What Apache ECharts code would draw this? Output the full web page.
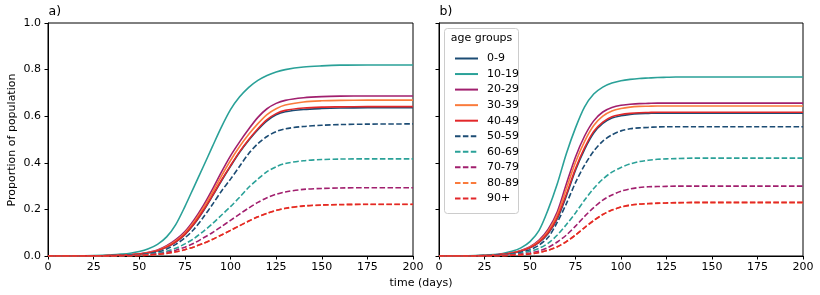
<!DOCTYPE html>
<html>
<head>
<meta charset="utf-8">
<script src="https://cdn.jsdelivr.net/npm/echarts@6/dist/echarts.min.js"></script>
<style>
html, body { margin: 0; padding: 0; background: #fff; }
#chart { width: 820px; height: 295px; }
</style>
</head>
<body>
<div id="chart"></div>
<script>
// sample days (x) shared by every curve
var days = [0, 10, 20, 30, 35, 40, 45, 50, 55, 60, 65, 70, 75, 80, 85, 90, 95, 100, 105, 110, 115, 120, 125, 130, 140, 150, 160, 175, 200];

var groups = ['0-9', '10-19', '20-29', '30-39', '40-49', '50-59', '60-69', '70-79', '80-89', '90+'];
var xTicks = [0, 25, 50, 75, 100, 125, 150, 175, 200];
var yTicks = [0, 0.2, 0.4, 0.6, 0.8, 1.0];

// panel a)
var a09   = [0,0,0.0005,0.001,0.002,0.003,0.005,0.008,0.014,0.023,0.038,0.06,0.092,0.136,0.192,0.256,0.322,0.385,0.445,0.497,0.542,0.58,0.606,0.619,0.629,0.633,0.635,0.636,0.636];
var a1019 = [0,0.0005,0.001,0.003,0.005,0.008,0.012,0.019,0.031,0.05,0.082,0.135,0.212,0.297,0.382,0.468,0.553,0.628,0.683,0.724,0.754,0.775,0.79,0.8,0.811,0.816,0.819,0.82,0.82];
var a2029 = [0,0,0.0005,0.001,0.002,0.003,0.005,0.009,0.016,0.026,0.044,0.07,0.105,0.155,0.215,0.285,0.36,0.43,0.49,0.545,0.595,0.632,0.655,0.668,0.679,0.684,0.686,0.687,0.687];
var a3039 = [0,0,0.0005,0.001,0.002,0.003,0.005,0.008,0.015,0.024,0.041,0.065,0.099,0.146,0.205,0.272,0.343,0.41,0.47,0.522,0.568,0.607,0.632,0.648,0.661,0.666,0.668,0.669,0.669];
var a4049 = [0,0,0.0005,0.001,0.002,0.003,0.005,0.008,0.014,0.023,0.038,0.061,0.093,0.138,0.194,0.258,0.325,0.388,0.448,0.5,0.546,0.585,0.611,0.625,0.635,0.639,0.64,0.641,0.641];
var a5059 = [0,0,0.0003,0.001,0.0015,0.002,0.004,0.006,0.01,0.017,0.03,0.05,0.078,0.115,0.165,0.22,0.278,0.33,0.385,0.44,0.482,0.513,0.534,0.546,0.556,0.561,0.564,0.566,0.567];
var a6069 = [0,0,0.0002,0.0007,0.001,0.0015,0.0025,0.004,0.007,0.012,0.02,0.033,0.052,0.075,0.105,0.138,0.175,0.212,0.252,0.295,0.33,0.362,0.383,0.397,0.409,0.414,0.416,0.417,0.417];
var a7079 = [0,0,0.0002,0.0005,0.0008,0.001,0.002,0.003,0.005,0.009,0.015,0.025,0.038,0.055,0.077,0.1,0.126,0.153,0.18,0.206,0.23,0.25,0.265,0.275,0.286,0.29,0.292,0.293,0.293];
var a8089 = [0,0,0.0001,0.0003,0.0005,0.0008,0.0012,0.002,0.004,0.007,0.011,0.018,0.027,0.039,0.054,0.071,0.09,0.11,0.13,0.15,0.168,0.183,0.195,0.204,0.214,0.218,0.22,0.221,0.221];
var a90   = [0,0,0.0001,0.0003,0.0005,0.0008,0.0012,0.002,0.004,0.007,0.011,0.018,0.027,0.039,0.054,0.071,0.09,0.11,0.13,0.15,0.168,0.183,0.196,0.205,0.215,0.219,0.221,0.222,0.222];

// panel b)
var b09   = [0,0,0.001,0.0035,0.006,0.011,0.02,0.035,0.058,0.097,0.16,0.258,0.368,0.458,0.528,0.569,0.592,0.602,0.608,0.611,0.612,0.613,0.613,0.613,0.613,0.613,0.613,0.613,0.613];
var b1019 = [0,0.0005,0.002,0.006,0.011,0.02,0.035,0.062,0.11,0.2,0.31,0.44,0.55,0.64,0.695,0.725,0.742,0.752,0.758,0.762,0.764,0.766,0.767,0.768,0.768,0.768,0.768,0.768,0.768];
var b2029 = [0,0,0.001,0.004,0.008,0.014,0.024,0.04,0.068,0.115,0.19,0.31,0.425,0.515,0.58,0.618,0.637,0.647,0.651,0.654,0.655,0.656,0.656,0.656,0.656,0.656,0.656,0.656,0.656];
var b3039 = [0,0,0.001,0.004,0.007,0.013,0.022,0.038,0.064,0.108,0.178,0.29,0.402,0.492,0.56,0.6,0.622,0.633,0.639,0.642,0.643,0.644,0.644,0.644,0.644,0.644,0.644,0.644,0.644];
var b4049 = [0,0,0.001,0.0035,0.007,0.012,0.021,0.036,0.06,0.1,0.165,0.265,0.375,0.465,0.535,0.575,0.598,0.607,0.612,0.615,0.616,0.617,0.617,0.617,0.617,0.617,0.617,0.617,0.617];
var b5059 = [0,0,0.0007,0.003,0.005,0.009,0.016,0.027,0.047,0.08,0.145,0.225,0.315,0.39,0.45,0.493,0.52,0.537,0.546,0.55,0.552,0.554,0.555,0.555,0.555,0.555,0.555,0.555,0.555];
var b6069 = [0,0,0.0005,0.002,0.004,0.007,0.012,0.02,0.033,0.055,0.09,0.135,0.185,0.24,0.29,0.33,0.36,0.38,0.395,0.405,0.411,0.415,0.417,0.418,0.42,0.42,0.42,0.42,0.42];
var b7079 = [0,0,0.0003,0.0012,0.0025,0.005,0.008,0.013,0.022,0.037,0.06,0.09,0.128,0.17,0.208,0.24,0.262,0.278,0.288,0.294,0.297,0.298,0.299,0.3,0.3,0.3,0.3,0.3,0.3];
var b8089 = [0,0,0.0002,0.0008,0.0015,0.003,0.005,0.009,0.015,0.025,0.04,0.062,0.09,0.122,0.152,0.178,0.197,0.21,0.218,0.222,0.224,0.226,0.227,0.228,0.229,0.229,0.229,0.229,0.229];
var b90   = [0,0,0.0002,0.0008,0.0015,0.003,0.005,0.009,0.015,0.025,0.04,0.062,0.09,0.122,0.152,0.178,0.197,0.21,0.218,0.223,0.225,0.227,0.228,0.229,0.23,0.23,0.23,0.23,0.23];

var panelA = [a09, a1019, a2029, a3039, a4049, a5059, a6069, a7079, a8089, a90];
var panelB = [b09, b1019, b2029, b3039, b4049, b5059, b6069, b7079, b8089, b90];

var colors = ['#1c4c74', '#2aa198', '#a11f6e', '#fa7b3c', '#e2272a',
              '#1c4c74', '#2aa198', '#a11f6e', '#fa7b3c', '#e2272a'];

var font = 'DejaVu Sans';

function pairs(vals) {
    return days.map(function (d, i) { return [d, vals[i]]; });
}

function makeSeries(vals, gi, axisIdx) {
    return {
        name: groups[gi],
        type: 'line',
        xAxisIndex: axisIdx,
        yAxisIndex: axisIdx,
        data: pairs(vals),
        smooth: 0.3,
        symbol: 'none',
        silent: true,
        animation: false,
        lineStyle: {
            color: colors[gi],
            width: 1.6,
            type: gi >= 5 ? [5.5, 2.4] : 'solid'
        },
        itemStyle: { color: colors[gi] }
    };
}

var series = [];
panelA.forEach(function (v, i) { series.push(makeSeries(v, i, 0)); });
panelB.forEach(function (v, i) { series.push(makeSeries(v, i, 1)); });

function xAxis(idx) {
    return {
        type: 'value', gridIndex: idx, min: 0, max: 200, interval: 25,
        axisLine: { show: true, lineStyle: { color: '#000', width: 1 } },
        axisTick: { show: true, length: 3.5, lineStyle: { color: '#000' } },
        axisLabel: { color: '#000', fontSize: 11, fontFamily: font, margin: 6 },
        splitLine: { show: false }
    };
}

function yAxis(idx) {
    return {
        type: 'value', gridIndex: idx, min: 0, max: 1, interval: 0.2,
        axisLine: { show: true, lineStyle: { color: '#000', width: 1 } },
        axisTick: { show: true, length: 3.5, lineStyle: { color: '#000' } },
        axisLabel: {
            show: idx === 0, color: '#000', fontSize: 11, fontFamily: font, margin: 7,
            formatter: function (v) { return v.toFixed(1); }
        },
        splitLine: { show: false }
    };
}

var chart = echarts.init(document.getElementById('chart'), null, { renderer: 'canvas' });
chart.setOption({
    animation: false,
    backgroundColor: '#fff',
    grid: [
        { left: 48, right: 407, top: 23, bottom: 39, show: true, borderColor: '#000', borderWidth: 1, backgroundColor: 'transparent' },
        { left: 439, right: 17, top: 23, bottom: 39, show: true, borderColor: '#000', borderWidth: 1, backgroundColor: 'transparent' }
    ],
    xAxis: [xAxis(0), xAxis(1)],
    yAxis: [yAxis(0), yAxis(1)],
    legend: {
        data: groups,
        orient: 'vertical',
        left: 449,
        top: 48,
        itemWidth: 23,
        itemHeight: 12,
        itemGap: 4.55,
        selectedMode: false,
        itemStyle: { opacity: 0 },
        textStyle: { color: '#000', fontSize: 11, fontFamily: font, padding: [0, 0, 0, 4] },
        z: 10
    },
    graphic: [
        { type: 'rect', z: 5, shape: { x: 444.5, y: 28.5, width: 74, height: 185, r: 3 },
          style: { fill: 'rgba(255,255,255,0.85)', stroke: '#cccccc', lineWidth: 1 } },
        { type: 'text', z: 11, x: 481.5, y: 38.5,
          style: { text: 'age groups', fontSize: 11, fontFamily: font, fill: '#000', textAlign: 'center', textVerticalAlign: 'middle' } },
        { type: 'text', x: 48.5, y: 12,
          style: { text: 'a)', fontSize: 12.5, fontFamily: font, fill: '#000', textAlign: 'left', textVerticalAlign: 'middle' } },
        { type: 'text', x: 439.5, y: 12,
          style: { text: 'b)', fontSize: 12.5, fontFamily: font, fill: '#000', textAlign: 'left', textVerticalAlign: 'middle' } },
        { type: 'text', x: 421, y: 283,
          style: { text: 'time (days)', fontSize: 11, fontFamily: font, fill: '#000', textAlign: 'center', textVerticalAlign: 'middle' } },
        { type: 'text', x: 12, y: 140, rotation: Math.PI / 2,
          style: { text: 'Proportion of population', fontSize: 11, fontFamily: font, fill: '#000', textAlign: 'center', textVerticalAlign: 'middle' } }
    ],
    series: series
});
</script>
</body>
</html>
